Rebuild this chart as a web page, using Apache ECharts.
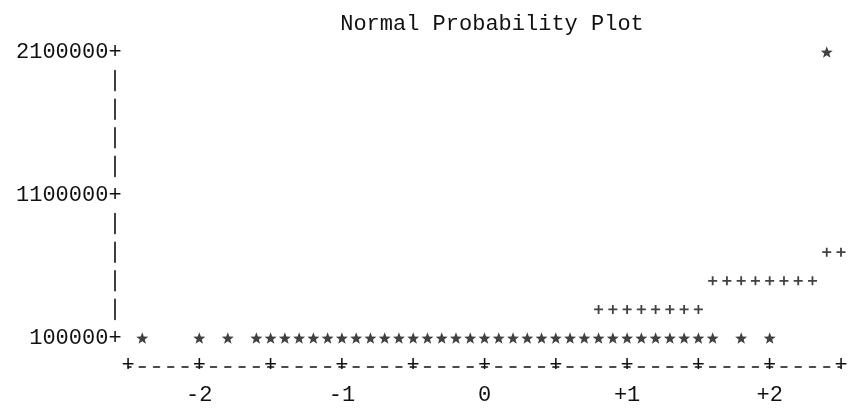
<!DOCTYPE html>
<html>
<head>
<meta charset="utf-8">
<script src="https://cdn.jsdelivr.net/npm/echarts@6/dist/echarts.min.js"></script>
<style>
html,body{margin:0;padding:0;background:#fff;}
#chart{width:858px;height:408px;}
</style>
</head>
<body>
<div id="chart"></div>
<script>
// ---- data ----
var titleText = 'Normal Probability Plot';
// observed values (plotted as *), x = normal quantile, y = value
var starZ = [-2.4, -2.0, -1.8,
  -1.6, -1.5, -1.4, -1.3, -1.2, -1.1, -1.0, -0.9, -0.8, -0.7, -0.6, -0.5, -0.4, -0.3, -0.2, -0.1,
  0.0, 0.1, 0.2, 0.3, 0.4, 0.5, 0.6, 0.7, 0.8, 0.9, 1.0, 1.1, 1.2, 1.3, 1.4, 1.5, 1.6,
  1.8, 2.0, 2.4];
var starVal = [100000, 100000, 100000,
  100000, 100000, 100000, 100000, 100000, 100000, 100000, 100000, 100000, 100000, 100000, 100000, 100000, 100000, 100000, 100000,
  100000, 100000, 100000, 100000, 100000, 100000, 100000, 100000, 100000, 100000, 100000, 100000, 100000, 100000, 100000, 100000, 100000,
  100000, 100000, 2100000];
// reference normal line (plotted as +), visible part
var plusZ = [0.8, 0.9, 1.0, 1.1, 1.2, 1.3, 1.4, 1.5,
  1.6, 1.7, 1.8, 1.9, 2.0, 2.1, 2.2, 2.3,
  2.4, 2.5];
var plusVal = [300000, 300000, 300000, 300000, 300000, 300000, 300000, 300000,
  500000, 500000, 500000, 500000, 500000, 500000, 500000, 500000,
  700000, 700000];
// axis ticks
var yTicks = [100000, 1100000, 2100000];
var xTickValues = [-2, -1, 0, 1, 2];
var xTickTexts = ['-2', '-1', '0', '+1', '+2'];

function pairs(xs, ys) { return xs.map(function (x, i) { return [x, ys[i]]; }); }

var FONT = 'Liberation Mono';
var FS = 22;
var INK = '#111';
var ROW = 28.6;

var starPath = 'path://M50 0L62.4 33L97.6 34.5L70 56.5L79.4 90.5L50 71L20.6 90.5L30 56.5L2.4 34.5L37.6 33Z';
var plusPath = 'path://M40 0H60V40H100V60H60V100H40V60H0V40H40Z';

var chart = echarts.init(document.getElementById('chart'), null, {renderer: 'canvas'});
chart.setOption({
  animation: false,
  backgroundColor: '#fff',
  title: {
    text: titleText,
    left: 487,
    textAlign: 'center',
    top: 8,
    textStyle: {fontFamily: FONT, fontSize: FS, fontWeight: 'normal', color: INK}
  },
  grid: {left: 128, right: 17, top: 52, bottom: 70},
  xAxis: [{
    type: 'value', min: -2.5, max: 2.5, interval: 0.5,
    position: 'bottom', offset: ROW,
    axisLine: {show: true, onZero: false, lineStyle: {color: INK, width: 1.5, type: [6, 8.26], dashOffset: 3}},
    axisTick: {show: false},
    splitLine: {show: false},
    axisLabel: {
      show: true, margin: -1, verticalAlign: 'middle',
      formatter: function () { return '+'; },
      fontFamily: FONT, fontSize: FS, color: INK
    }
  }, {
    type: 'value', min: -2.5, max: 2.5, interval: 0.5,
    position: 'bottom', offset: ROW,
    axisLine: {show: false, onZero: false},
    axisTick: {show: false},
    splitLine: {show: false},
    axisLabel: {
      show: true, margin: ROW, verticalAlign: 'middle',
      formatter: function (v) {
        for (var i = 0; i < xTickValues.length; i++) {
          if (Math.abs(xTickValues[i] - v) < 1e-9) return xTickTexts[i];
        }
        return '';
      },
      fontFamily: FONT, fontSize: FS, color: INK
    }
  }],
  yAxis: {
    type: 'value', min: yTicks[0], max: yTicks[yTicks.length - 1], interval: yTicks[1] - yTicks[0],
    offset: 13,
    axisLine: {show: true, onZero: false, lineStyle: {color: INK, width: 1.6,
      type: [20, 8.6, 20, 8.6, 20, 8.6, 20, 37.2], dashOffset: 124.4}},
    axisTick: {show: false},
    splitLine: {show: false},
    axisLabel: {
      show: true, margin: -6.6,
      formatter: function (v) { return v + '+'; },
      fontFamily: FONT, fontSize: FS, color: INK
    }
  },
  series: [{
    type: 'scatter', name: 'reference',
    xAxisIndex: 0,
    data: pairs(plusZ, plusVal),
    symbol: plusPath, symbolSize: 9,
    itemStyle: {color: INK},
    clip: false, silent: true
  }, {
    type: 'scatter', name: 'observed',
    xAxisIndex: 0,
    data: pairs(starZ, starVal),
    symbol: starPath, symbolSize: [12, 11.5],
    itemStyle: {color: INK},
    clip: false, silent: true
  }]
});
</script>
</body>
</html>
